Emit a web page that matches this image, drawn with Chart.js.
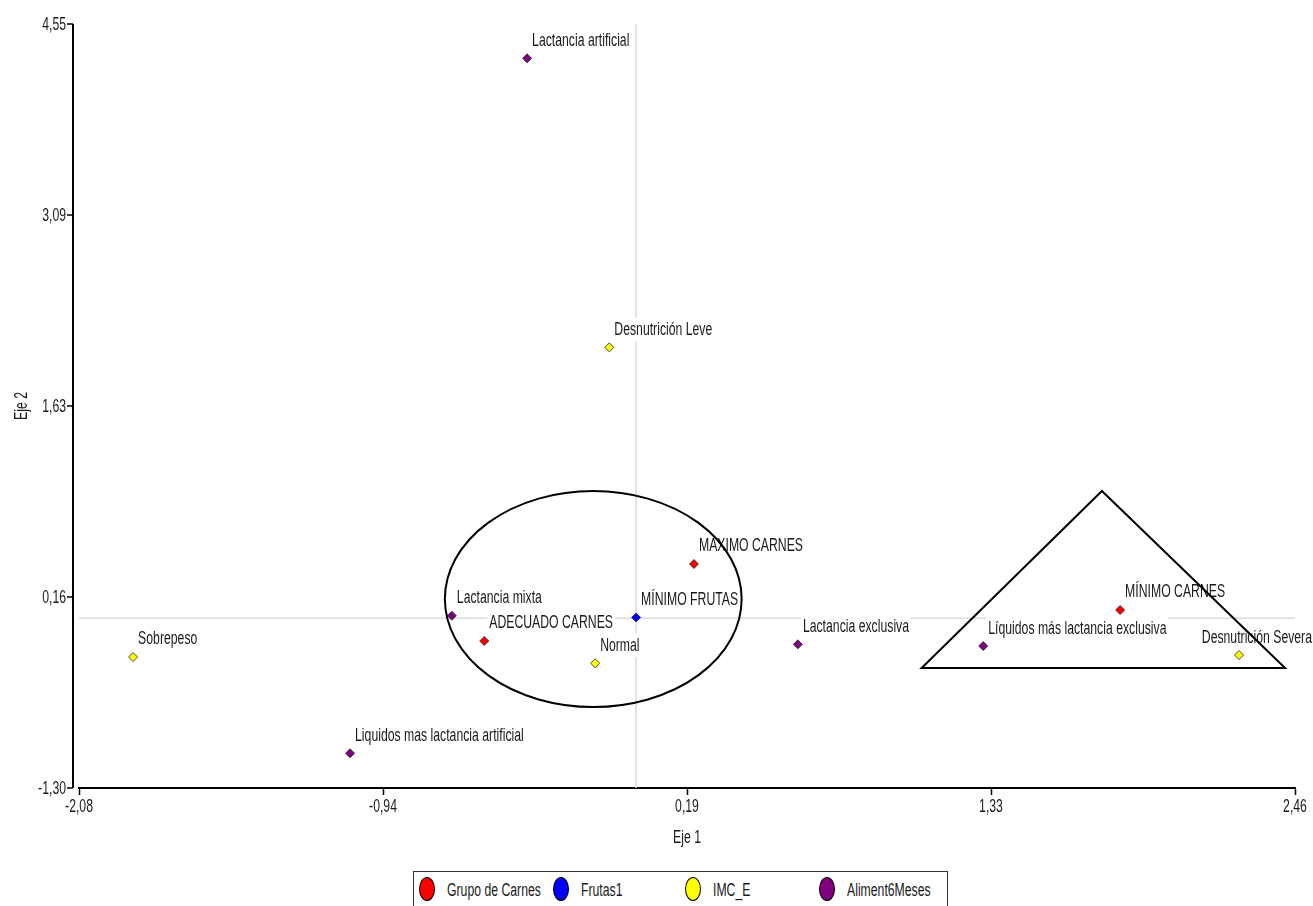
<!DOCTYPE html>
<html>
<head>
<meta charset="utf-8">
<script src="https://cdn.jsdelivr.net/npm/chart.js@4.4.0/dist/chart.umd.min.js"></script>
<style>
  html, body { margin: 0; padding: 0; background: #fff; overflow: hidden; }
  #wrap { position: relative; width: 1313px; height: 906px; }
  #legend {
    position: absolute; left: 413px; top: 871px; width: 535px; height: 42px;
    border: 1.5px solid #333; box-sizing: border-box; background: #fff;
    font-family: 'Liberation Sans', Arial, sans-serif;
    font-size: 18px; color: #1a1a1a;
  }
  .sw { position: absolute; top: 5px; width: 16px; height: 24px; border: 1px solid #000;
        border-radius: 50%; box-sizing: border-box; }
  .lt { position: absolute; top: 8.5px; line-height: 18px; white-space: nowrap;
        transform: scaleX(0.68); transform-origin: 0 0; }
</style>
</head>
<body>
<div id="wrap">
  <canvas id="c" width="1313" height="906"></canvas>
  <div id="legend"></div>
</div>
<script>
// Category labels and coordinates (Eje 1, Eje 2) for each variable
const carnesLabels = ['ADECUADO CARNES', 'MAXIMO CARNES', 'MÍNIMO CARNES'];
const carnesX = [-0.567, 0.216, 1.807];
const carnesY = [-0.174, 0.415, 0.063];

const frutasLabels = ['MÍNIMO FRUTAS'];
const frutasX = [0.00];
const frutasY = [0.006];

const imcLabels = ['Desnutrición Leve', 'Normal', 'Sobrepeso', 'Desnutrición Severa'];
const imcX = [-0.100, -0.153, -1.878, 2.251];
const imcY = [2.074, -0.345, -0.297, -0.282];

const alimLabels = ['Lactancia artificial', 'Lactancia mixta', 'Liquidos mas lactancia artificial',
                    'Lactancia exclusiva', 'Líquidos más lactancia exclusiva'];
const alimX = [-0.407, -0.688, -1.068, 0.604, 1.296];
const alimY = [4.287, 0.019, -1.034, -0.200, -0.213];

const seriesNames = ['Grupo de Carnes', 'Frutas1', 'IMC_E', 'Aliment6Meses'];
const seriesColors = ['#ff0000', '#0000ff', '#ffff00', '#800080'];

// Axis ranges, tick labels and titles
const xRange = [-2.08, 2.46];
const yRange = [-1.30, 4.55];
const xTickLabels = ['-2,08', '-0,94', '0,19', '1,33', '2,46'];
const yTickLabels = ['-1,30', '0,16', '1,63', '3,09', '4,55'];
const xTitle = 'Eje 1';
const yTitle = 'Eje 2';

// Grouping outlines, in axis units: ellipse [cx, cy, rx, ry], triangle vertices
const ellipseGroup = [-0.160, 0.147, 0.554, 0.827];
const triangleGroup = [[1.739, 0.974], [1.066, -0.381], [2.423, -0.381]];

const FONT = "18px 'Liberation Sans', Arial, sans-serif";
const NARROW = 0.68;   // horizontal squeeze for a condensed look
const TEXT = '#1a1a1a';

function pts(xs, ys) { return xs.map((x, i) => ({ x: x, y: ys[i] })); }

const datasets = [
  { label: seriesNames[0], data: pts(carnesX, carnesY), names: carnesLabels },
  { label: seriesNames[1], data: pts(frutasX, frutasY), names: frutasLabels },
  { label: seriesNames[2], data: pts(imcX, imcY), names: imcLabels },
  { label: seriesNames[3], data: pts(alimX, alimY), names: alimLabels }
].map((d, i) => Object.assign(d, {
  backgroundColor: seriesColors[i],
  borderColor: '#222',
  borderWidth: 0.8,
  pointStyle: 'rectRot',
  pointRadius: 4.5,
  pointHoverRadius: 4.5
}));

function evenTicks(scale, n) {
  const out = [];
  for (let i = 0; i < n; i++) out.push({ value: scale.min + i * (scale.max - scale.min) / (n - 1) });
  scale.ticks = out;
}

function narrowText(ctx, txt, x, y, align, rot) {
  ctx.save();
  ctx.translate(x, y);
  if (rot) ctx.rotate(rot);
  ctx.scale(NARROW, 1);
  ctx.textAlign = align;
  ctx.textBaseline = 'middle';
  ctx.fillText(txt, 0, 0);
  ctx.restore();
}

// Reference lines, axes text and point labels drawn beneath the markers
const underlay = {
  id: 'underlay',
  beforeDatasetsDraw(chart) {
    const { ctx, chartArea: a, scales: { x, y } } = chart;
    ctx.save();
    // zero reference lines
    ctx.strokeStyle = '#dcdcdc';
    ctx.lineWidth = 1.5;
    const x0 = x.getPixelForValue(0), y0 = y.getPixelForValue(0);
    ctx.beginPath();
    ctx.moveTo(x0, a.top); ctx.lineTo(x0, a.bottom);
    ctx.moveTo(a.left, y0); ctx.lineTo(a.right, y0);
    ctx.stroke();

    // left axis line set slightly apart from the plot
    const ax = a.left - 6;
    ctx.strokeStyle = '#000';
    ctx.lineWidth = 2;
    ctx.beginPath();
    ctx.moveTo(ax, y.getPixelForValue(y.max));
    ctx.lineTo(ax, y.getPixelForValue(y.min));
    ctx.stroke();
    ctx.lineWidth = 1.5;
    ctx.beginPath();
    y.ticks.forEach(t => {
      const py = y.getPixelForValue(t.value);
      ctx.moveTo(ax - 6, py); ctx.lineTo(ax, py);
    });
    ctx.stroke();

    // tick labels and axis titles
    ctx.font = FONT;
    ctx.fillStyle = TEXT;
    y.ticks.forEach((t, i) => narrowText(ctx, yTickLabels[i], ax - 7, y.getPixelForValue(t.value) + 1, 'right'));
    x.ticks.forEach((t, i) => narrowText(ctx, xTickLabels[i], x.getPixelForValue(t.value), a.bottom + 19, 'center'));
    narrowText(ctx, xTitle, (a.left + a.right) / 2, a.bottom + 50, 'center');
    narrowText(ctx, yTitle, 22, (a.top + a.bottom) / 2, 'center', -Math.PI / 2);

    // category labels with white backing, kept inside the canvas
    const maxRight = chart.width - 1;
    chart.data.datasets.forEach((ds, di) => {
      const meta = chart.getDatasetMeta(di);
      meta.data.forEach((el, i) => {
        const txt = ds.names[i];
        const w = ctx.measureText(txt).width * NARROW;
        let tx = el.x + 5;
        if (tx + w > maxRight) tx = maxRight - w;
        ctx.fillStyle = '#fff';
        ctx.fillRect(tx - 2, el.y - 30, w + 4, 24);
        ctx.fillStyle = TEXT;
        narrowText(ctx, txt, tx, el.y - 17.5, 'left');
      });
    });
    ctx.restore();
  },
  afterDatasetsDraw(chart) {
    const { ctx, scales: { x, y } } = chart;
    ctx.save();
    ctx.strokeStyle = '#000';
    ctx.lineWidth = 2;
    const [cx, cy, rx, ry] = ellipseGroup;
    const px = x.getPixelForValue(cx), py = y.getPixelForValue(cy);
    const prx = Math.abs(x.getPixelForValue(cx + rx) - px);
    const pry = Math.abs(y.getPixelForValue(cy + ry) - py);
    ctx.beginPath();
    ctx.ellipse(px, py, prx, pry, 0, 0, Math.PI * 2);
    ctx.stroke();
    ctx.beginPath();
    triangleGroup.forEach((p, i) => {
      const X = x.getPixelForValue(p[0]), Y = y.getPixelForValue(p[1]);
      if (i === 0) ctx.moveTo(X, Y); else ctx.lineTo(X, Y);
    });
    ctx.closePath();
    ctx.stroke();
    ctx.restore();
  }
};

new Chart(document.getElementById('c'), {
  type: 'scatter',
  data: { datasets: datasets },
  plugins: [underlay],
  options: {
    responsive: false,
    animation: false,
    events: [],
    layout: { padding: { top: 24, right: 18, bottom: 58, left: 0 } },
    plugins: { legend: { display: false }, tooltip: { enabled: false } },
    scales: {
      x: {
        type: 'linear', min: xRange[0], max: xRange[1],
        afterBuildTicks: s => evenTicks(s, xTickLabels.length),
        afterFit: s => { s.height = 60; },
        ticks: { display: false },
        grid: { drawOnChartArea: false, drawTicks: true, tickLength: 7, tickColor: '#000', tickWidth: 1.5 },
        border: { display: true, color: '#000', width: 2 }
      },
      y: {
        type: 'linear', min: yRange[0], max: yRange[1],
        afterBuildTicks: s => evenTicks(s, yTickLabels.length),
        afterFit: s => { s.width = 79; },
        ticks: { display: false },
        grid: { display: false, drawTicks: false },
        border: { display: false }
      }
    }
  }
});

// Legend box below the plot
const legendPos = [[427, 447], [561, 581], [693, 713], [827, 847]];
const lg = document.getElementById('legend');
seriesNames.forEach((name, i) => {
  const sw = document.createElement('div');
  sw.className = 'sw';
  sw.style.background = seriesColors[i];
  sw.style.left = (legendPos[i][0] - 413 - 1.5 - 8) + 'px';
  lg.appendChild(sw);
  const t = document.createElement('div');
  t.className = 'lt';
  t.textContent = name;
  t.style.left = (legendPos[i][1] - 413 - 1.5) + 'px';
  lg.appendChild(t);
});
</script>
</body>
</html>
